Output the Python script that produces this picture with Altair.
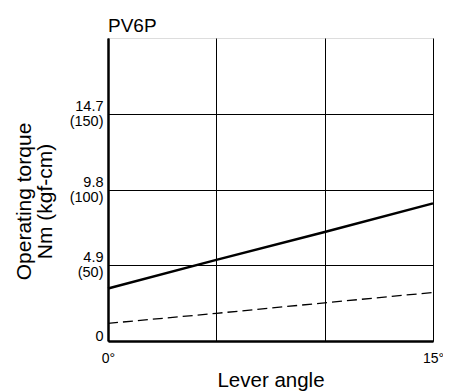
import altair as alt
import pandas as pd

# Data
angles = [0, 5, 10, 15]
torque_solid = [3.4, 5.25, 7.05, 8.9]
torque_dashed = [1.14, 1.79, 2.47, 3.14]

y_ticks = [0, 4.9, 9.8, 14.7]
y_kgf = ["", "(50)", "(100)", "(150)"]
x_ticks = [0, 5, 10, 15]
x_labels = {0: "0°", 15: "15°"}

FONT = "Liberation Sans, Arial, sans-serif"

# label expressions built from the lists
parts = []
for v, k in zip(y_ticks, y_kgf):
    if k:
        parts.append(f"datum.value == {v} ? ['{v}', '{k}']")
    else:
        parts.append(f"datum.value == {v} ? '{v:g}'")
y_label_expr = " : ".join(parts) + " : ''"
x_label_expr = " : ".join(f"datum.value == {k} ? '{t}'" for k, t in x_labels.items()) + " : ''"

df_solid = pd.DataFrame({"angle": angles, "torque": torque_solid})
df_dashed = pd.DataFrame({"angle": angles, "torque": torque_dashed})

x_enc = alt.X(
    "angle:Q",
    scale=alt.Scale(domain=[0, 15], nice=False, zero=False),
    axis=alt.Axis(
        values=x_ticks,
        labelExpr=x_label_expr,
        title="Lever angle",
        titleFontSize=20.5,
        titleFont=FONT,
        titleFontWeight="normal",
        titleColor="black",
        titleBaseline="alphabetic",
        titleY=45,
        labelFont=FONT,
        labelFontSize=14,
        labelColor="black",
        labelPadding=10,
        labelBaseline="top",
        labelFlush=False,
        labelOverlap=False,
        ticks=False,
        grid=True,
        gridColor="black",
        gridOpacity=1,
        gridWidth=1,
        domainColor="black",
        domainWidth=2.5,
    ),
)

y_enc = alt.Y(
    "torque:Q",
    scale=alt.Scale(domain=[0, 19.6], nice=False),
    axis=alt.Axis(
        values=y_ticks,
        labelExpr=y_label_expr,
        title=["Operating torque", "Nm (kgf-cm)"],
        titleFontSize=21,
        titleFont=FONT,
        titleFontWeight="normal",
        titleColor="black",
        titleLineHeight=21,
        titleAngle=270,
        titleBaseline="middle",
        titleX=-84,
        titleY=163,
        labelFont=FONT,
        labelFontSize=14.5,
        labelLineHeight=15,
        labelColor="black",
        labelPadding=5,
        labelBaseline="middle",
        labelOffset={"condition": {"test": "datum.value == 0", "value": -5}, "value": -7.5},
        labelFlush=False,
        labelOverlap=False,
        ticks=False,
        grid=True,
        gridColor="black",
        gridOpacity=1,
        gridWidth=1,
        domainColor="black",
        domainWidth=2.5,
    ),
)

solid = alt.Chart(df_solid).mark_line(color="black", strokeWidth=2.5).encode(x=x_enc, y=y_enc)
dashed = alt.Chart(df_dashed).mark_line(color="black", strokeWidth=1.3, strokeDash=[10, 5]).encode(
    x="angle:Q", y="torque:Q"
)

chart = (
    alt.layer(solid, dashed)
    .properties(
        width=325,
        height=303,
        autosize="none",
        padding={"left": 100, "top": 30, "right": 10, "bottom": 50},
        title=alt.TitleParams(
            "PV6P",
            anchor="start",
            frame="group",
            font=FONT,
            fontSize=19,
            fontWeight="normal",
            color="black",
            baseline="bottom",
            offset=5,
            dy=22,
        ),
    )
    .configure_view(stroke="black", strokeWidth=1)
    .configure(background="white")
)

chart.save("out.html", embed_options={"renderer": "svg", "actions": False})
